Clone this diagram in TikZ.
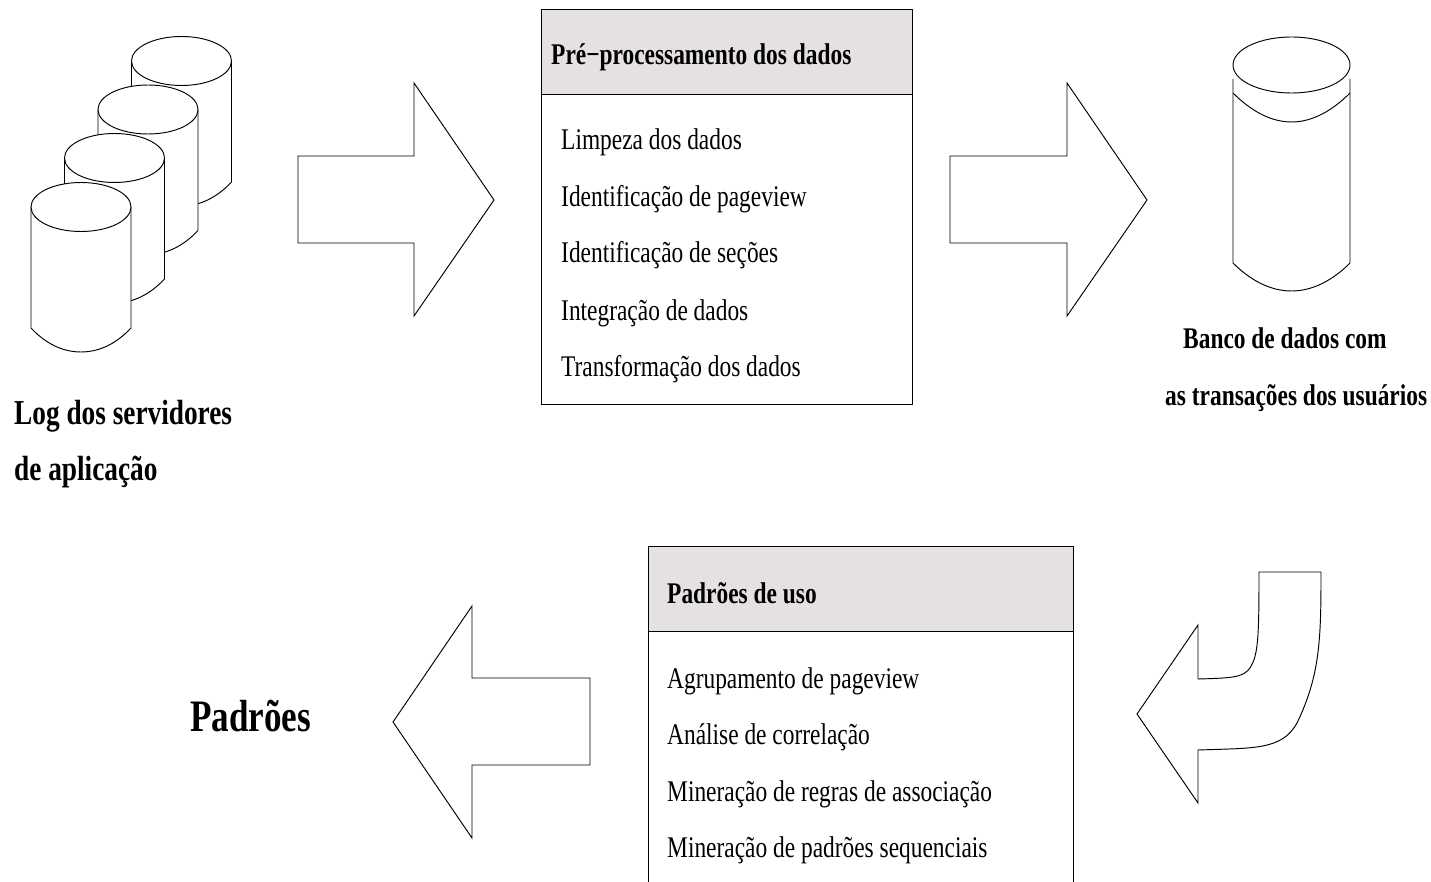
\documentclass[tikz,border=0pt]{standalone}
\usepackage{fontspec}
\setmainfont{Liberation Serif}
\newfontfamily\squeezed[FakeStretch=0.78]{Liberation Serif}
\newfontfamily\squeezedb[FakeStretch=0.78]{Liberation Serif Bold}
\tikzset{
  shapeline/.style={draw=black,line width=0.95pt,fill=white,line join=miter},
  header/.style={draw=black,line width=0.95pt,fill=headgray},
  item/.style={anchor=base west,inner sep=0pt,font=\fontsize{30}{30}\squeezed},
  head/.style={anchor=base west,inner sep=0pt,font=\fontsize{30}{30}\squeezedb},
  caption/.style={anchor=base west,inner sep=0pt,font=\fontsize{35}{35}\squeezedb},
}
\definecolor{headgray}{HTML}{E5E0E4}
\newcommand{\dbcyl}[2]{%
  \begin{scope}[shift={(#1,#2)}]
    \draw[shapeline] (0,0) -- (0,121) .. controls (14,136) and (31,145) .. (50,145)
      .. controls (69,145) and (86,136) .. (100,121) -- (100,0);
    \draw[shapeline] (50,0) ellipse [x radius=50,y radius=24.5];
  \end{scope}}
\begin{document}
\begin{tikzpicture}[x=1pt,y=-1pt]
\useasboundingbox (0,0) rectangle (1431,882);
% cylinders
\dbcyl{131.5}{61}
\dbcyl{98}{109.5}
\dbcyl{64.5}{158}
\dbcyl{31}{207}
% arrows
\draw[shapeline] (298,156)--(414,156)--(414,83)--(494,200)--(414,316)--(414,243)--(298,243)--cycle;
\draw[shapeline] (950,156)--(1067,156)--(1067,83)--(1147,200)--(1067,316)--(1067,243)--(950,243)--cycle;
\draw[shapeline] (590,678)--(472,678)--(472,606)--(393,722)--(472,838)--(472,765)--(590,765)--cycle;
\draw[shapeline] (1259,572)--(1321,572)
  .. controls (1321,640) and (1320,675) .. (1297,723)
  .. controls (1282,750) and (1255,748) .. (1198,750)
  -- (1198,803) -- (1137,714) -- (1198,625) -- (1198,679)
  .. controls (1235,678) and (1243,677) .. (1250,668)
  .. controls (1258,655) and (1259,640) .. (1259,572) -- cycle;
% database
\draw[shapeline] (1233,79)--(1233,263) .. controls (1250,280) and (1270,291) .. (1291.5,291)
  .. controls (1313,291) and (1333,280) .. (1350,263) -- (1350,79);
\draw[shapeline,fill=none] (1233,93) .. controls (1250,110) and (1270,122) .. (1291.5,122)
  .. controls (1313,122) and (1333,110) .. (1350,93);
\draw[shapeline] (1291.5,65) ellipse [x radius=58.5,y radius=28];
% box 1
\draw[shapeline] (541,9) rectangle (912,404);
\draw[header] (541,9) rectangle (912,94);
\node[head] (h1) at (551,65) {Pré−processamento dos dados};
\node[item] (a1) at (561,150) {Limpeza dos dados};
\node[item] (a2) at (561,207) {Identificação de pageview};
\node[item] (a3) at (561,263) {Identificação de seções};
\node[item] (a4) at (561,320) {Integração de dados};
\node[item] (a5) at (561,376) {Transformação dos dados};
% box 2
\draw[header] (648,546) rectangle (1073,631);
\draw[shapeline,fill=none] (648,631)--(648,882);
\draw[shapeline,fill=none] (1073,631)--(1073,882);
\node[head] (h2) at (667,603) {Padrões de uso};
\node[item] (b1) at (667,688) {Agrupamento de pageview};
\node[item] (b2) at (667,744) {Análise de correlação};
\node[item] (b3) at (667,801) {Mineração de regras de associação};
\node[item] (b4) at (667,857) {Mineração de padrões sequenciais};
% captions
\node[caption] (c1) at (14,424) {Log dos servidores};
\node[caption] (c2) at (14,480) {de aplicação};
\node[head] (c3) at (1183,348) {Banco de dados com};
\node[head] (c4) at (1165,405) {as transações dos usuários};
\node[anchor=base west,inner sep=0pt,font=\fontsize{45}{45}\squeezedb] (c5) at (190,731) {Padrões};
\end{tikzpicture}
\end{document}
